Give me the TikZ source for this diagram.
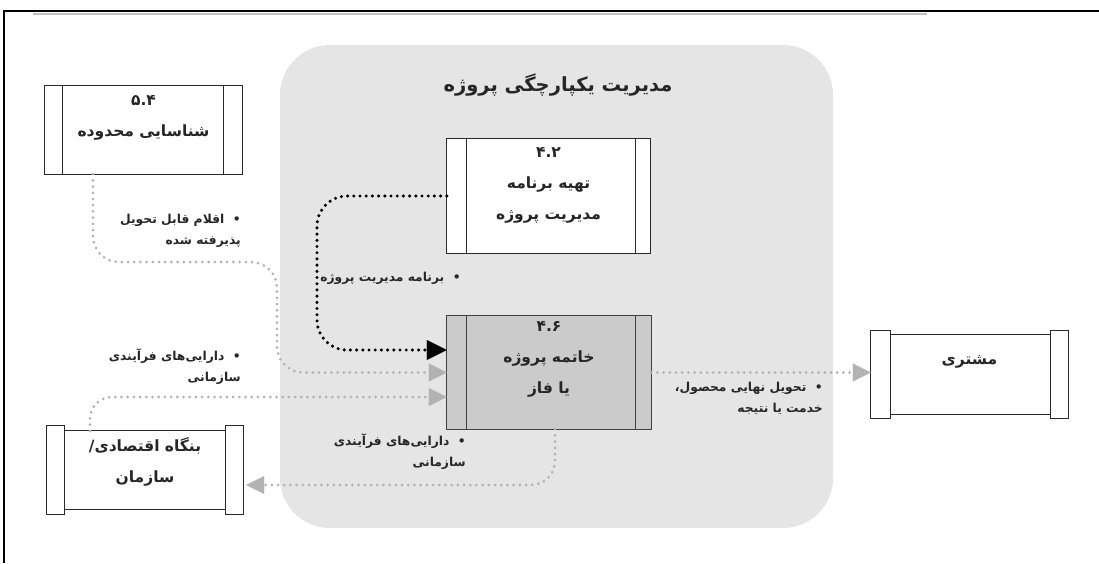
\documentclass[tikz,border=0pt]{standalone}
\usepackage{fontspec}
\usetikzlibrary{arrows.meta}
\TeXXeTstate=1
\newfontfamily\fa[Script=Arabic]{DejaVu Sans}

\definecolor{panelgray}{HTML}{E5E5E5}
\definecolor{closefill}{HTML}{CBCBCB}
\definecolor{flowgray}{HTML}{B2B2B2}
\definecolor{edgedark}{HTML}{2A2A2A}

\tikzset{
  boxline/.style={draw=edgedark, line width=1.2pt},
  holder/.style={inner sep=0pt, minimum width=#1},
  boxtext/.style={font=\fa\bfseries\fontsize{15.5}{31}\selectfont, align=center, text=black!85, inner sep=0pt},
  labeltext/.style={font=\fa\bfseries\fontsize{12.3}{21}\selectfont, align=right, text=black!85, inner sep=0pt},
  dotflow/.style={line width=3pt, line cap=round, dash pattern=on 0pt off 6.2pt},
  grayflow/.style={dotflow, draw=flowgray,
    -{Triangle[length=18pt,width=18pt,line width=0.1pt,fill=flowgray]}},
  blackflow/.style={dotflow, draw=black, line width=3.4pt,
    -{Triangle[length=20pt,width=20pt,line width=0.1pt,fill=black]}},
}

\begin{document}
\begin{tikzpicture}[x=1pt,y=-1pt]
\useasboundingbox (0,0) rectangle (1099,563);

% page frame
\draw[black!25, line width=2pt] (33,13.5) -- (927,13.5);
\draw[black, line width=2pt] (3,11) -- (1099,11);
\draw[black, line width=1.5pt] (4,11) -- (4,563);

% integration management panel
\fill[panelgray, rounded corners=50pt] (280,45) rectangle (833,528);
\node[font=\fa\bfseries\fontsize{19.5}{22}\selectfont, text=black!85] (title) at (558,85)
  {\beginR مدیریت یکپارچگی پروژه\endR};

% box 5.4 : scope identification
\node[holder=197pt, minimum height=88pt] (n54) at (143.5,130) {};
\draw[boxline, fill=white] (n54.north west) rectangle (n54.south east);
\draw[boxline] ([xshift=18pt]n54.north west) -- ([xshift=18pt]n54.south west);
\draw[boxline] ([xshift=-19pt]n54.north east) -- ([xshift=-19pt]n54.south east);
\node[boxtext] (t54) at (143.5,118) {۵.۴\\\beginR شناسایی محدوده\endR};

% box 4.2 : develop project management plan
\node[holder=203pt, minimum height=114pt] (n42) at (548.5,196) {};
\draw[boxline, fill=white] (n42.north west) rectangle (n42.south east);
\draw[boxline] ([xshift=20pt]n42.north west) -- ([xshift=20pt]n42.south west);
\draw[boxline] ([xshift=-15pt]n42.north east) -- ([xshift=-15pt]n42.south east);
\node[boxtext] (t42) at (548.5,185) {۴.۲\\\beginR تهیه برنامه\endR\\\beginR مدیریت پروژه\endR};

% box 4.6 : close project or phase
\node[holder=204pt, minimum height=113pt] (n46) at (549,372.5) {};
\draw[boxline, draw=black!75, fill=closefill] (n46.north west) rectangle (n46.south east);
\draw[boxline, draw=black!75] ([xshift=20pt]n46.north west) -- ([xshift=20pt]n46.south west);
\draw[boxline, draw=black!75] ([xshift=-16pt]n46.north east) -- ([xshift=-16pt]n46.south east);
\node[boxtext] (t46) at (549,359) {۴.۶\\\beginR خاتمه پروژه\endR\\\beginR یا فاز\endR};

% customer
\node[holder=197pt, minimum height=87pt] (cust) at (969.5,374.5) {};
\draw[boxline] ([yshift=-4pt]cust.north west) -- ([yshift=-4pt]cust.north east);
\draw[boxline] ([yshift=4pt]cust.south west) -- ([yshift=4pt]cust.south east);
\draw[boxline, fill=white] (cust.north west) rectangle ([xshift=20pt]cust.south west);
\draw[boxline, fill=white] ([xshift=-18pt]cust.north east) rectangle (cust.south east);
\node[boxtext] (tcust) at (969.5,362) {\beginR مشتری\endR};

% enterprise / organization
\node[holder=196pt, minimum height=88pt] (org) at (145,470) {};
\draw[boxline] ([yshift=-5pt]org.north west) -- ([yshift=-5pt]org.north east);
\draw[boxline] ([yshift=5pt]org.south west) -- ([yshift=5pt]org.south east);
\draw[boxline, fill=white] (org.north west) rectangle ([xshift=18pt]org.south west);
\draw[boxline, fill=white] ([xshift=-18pt]org.north east) rectangle (org.south east);
\node[boxtext] (torg) at (145,462) {\beginR بنگاه اقتصادی/\endR\\\beginR سازمان\endR};

% flows
\draw[blackflow, rounded corners=30pt] (n42.west) -| (317,280) |- ([yshift=22.5pt]n46.west);
\draw[grayflow, rounded corners=26pt] ([xshift=-50.5pt]n54.south) |- (277,262)
  |- (n46.west);
\draw[grayflow, rounded corners=22pt] ([xshift=-55pt,yshift=-5pt]org.north)
  |- ([yshift=-24.5pt]n46.west);
\draw[grayflow, rounded corners=24pt] ([xshift=6pt]n46.south)
  |- ([yshift=-15pt,xshift=3pt]org.east);
\draw[grayflow] (n46.east) -- (n46.east -| cust.west);

% flow labels
\node[labeltext, anchor=north east] (l1) at (241,214)
  {\beginR •\ \ اقلام قابل تحویل\endR\\\beginR پذیرفته شده\endR};
\node[labeltext, anchor=east] (l2) at (461,278)
  {\beginR •\ \ برنامه مدیریت پروژه\endR};
\node[labeltext, anchor=north east] (l3) at (241,349)
  {\beginR •\ \ دارایی‌های فرآیندی\endR\\\beginR سازمانی\endR};
\node[labeltext, anchor=north east] (l4) at (466,434)
  {\beginR •\ \ دارایی‌های فرآیندی\endR\\\beginR سازمانی\endR};
\node[labeltext, anchor=north east] (l5) at (823,382)
  {\beginR •\ \ تحویل نهایی محصول،\endR\\\beginR خدمت یا نتیجه\endR};
\end{tikzpicture}
\end{document}
